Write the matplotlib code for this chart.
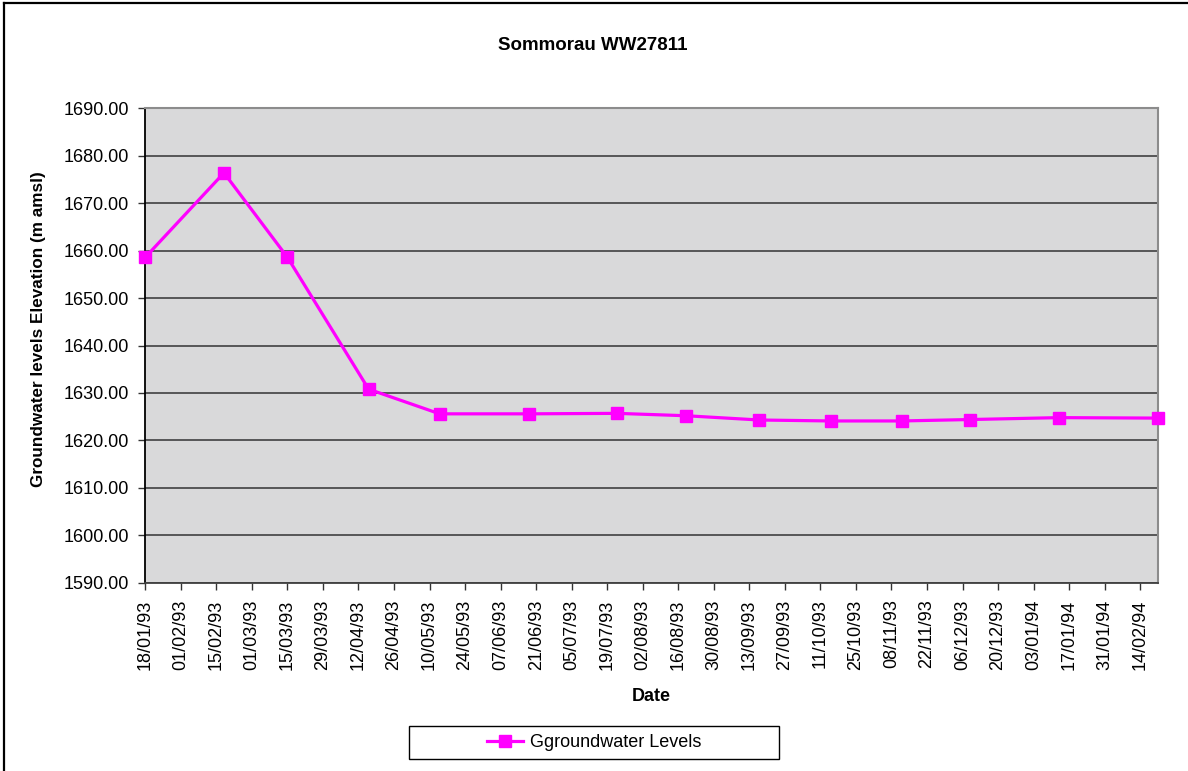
import numpy as np
import matplotlib
matplotlib.use("Agg")
import matplotlib.pyplot as plt
import matplotlib.dates as mdates
from matplotlib.lines import Line2D
from matplotlib.patches import Rectangle

plt.rcParams['font.family'] = ['Liberation Sans', 'DejaVu Sans']

# data
dates = np.array(['1993-01-18', '1993-02-18', '1993-03-15', '1993-04-16',
                  '1993-05-14', '1993-06-18', '1993-07-23', '1993-08-19',
                  '1993-09-17', '1993-10-15', '1993-11-12', '1993-12-09',
                  '1994-01-13', '1994-02-21'], dtype='datetime64[D]')
levels = [1658.6, 1676.4, 1658.6, 1630.8, 1625.6, 1625.6, 1625.7, 1625.2,
          1624.3, 1624.1, 1624.1, 1624.4, 1624.8, 1624.7]

tick_dates = np.arange(np.datetime64('1993-01-18'), np.datetime64('1994-02-15'),
                       np.timedelta64(14, 'D'))


def to_dt(d):
    return d.astype('datetime64[ms]').astype(object)


fig = plt.figure(figsize=(11.88, 7.71), dpi=100)
ax = fig.add_axes([0.1223, 0.2442, 0.8524, 0.6153])
ax.set_facecolor('#d9d9da')

ax.plot(to_dt(dates), levels, color='#ff00ff',
        lw=2.3, marker='s', ms=9, mec='#ff00ff', mfc='#ff00ff',
        label='Ggroundwater Levels', zorder=3, clip_on=False)

ax.set_ylim(1590, 1690)
ax.set_yticks(np.arange(1590, 1691, 10))
ax.yaxis.set_major_formatter(matplotlib.ticker.FormatStrFormatter('%.2f'))
ax.grid(axis='y', color='#333333', lw=1.1, zorder=1)
ax.set_axisbelow(True)

ax.set_xlim(to_dt(dates[0]), to_dt(dates[-1]))
ax.set_xticks([to_dt(d) for d in tick_dates])
ax.xaxis.set_major_formatter(mdates.DateFormatter('%d/%m/%y'))
for lab in ax.get_xticklabels():
    lab.set_rotation(90)
    lab.set_ha('center')

ax.tick_params(axis='both', labelsize=13, length=5, width=1, color='#333333',
               pad=7, direction='out')

ax.spines['left'].set_color('black')
ax.spines['left'].set_linewidth(1.3)
ax.spines['bottom'].set_color('#404040')
ax.spines['bottom'].set_linewidth(1.3)
for s in ['top', 'right']:
    ax.spines[s].set_color('#8c8c8c')
    ax.spines[s].set_linewidth(1.5)

fig.text(0.499, 0.9416, 'Sommorau WW27811', ha='center', va='center',
         fontsize=13.5, fontweight='bold')
fig.text(0.032, 0.573, 'Groundwater levels Elevation (m amsl)', ha='center',
         va='center', rotation=90, fontsize=12.3, fontweight='bold')
fig.text(0.5485, 0.096, 'Date', ha='center', va='center', fontsize=13,
         fontweight='bold')

# legend box
fig.patches.append(Rectangle((409 / 1188, 12 / 771), 370 / 1188, 33 / 771,
                             transform=fig.transFigure, fill=False,
                             ec='black', lw=1.0))
fig.legend(loc='center', bbox_to_anchor=(594 / 1188, 28.5 / 771), frameon=False,
           fontsize=13, handlelength=2.0, handletextpad=0.4)

# chart border (top and left visible)
fig.add_artist(Line2D([0.003, 1.0], [0.996, 0.996], transform=fig.transFigure,
                      color='black', lw=1.6))
fig.add_artist(Line2D([0.0035, 0.0035], [0.0, 0.996], transform=fig.transFigure,
                      color='black', lw=1.6))

fig.savefig('out.png', dpi=100)
